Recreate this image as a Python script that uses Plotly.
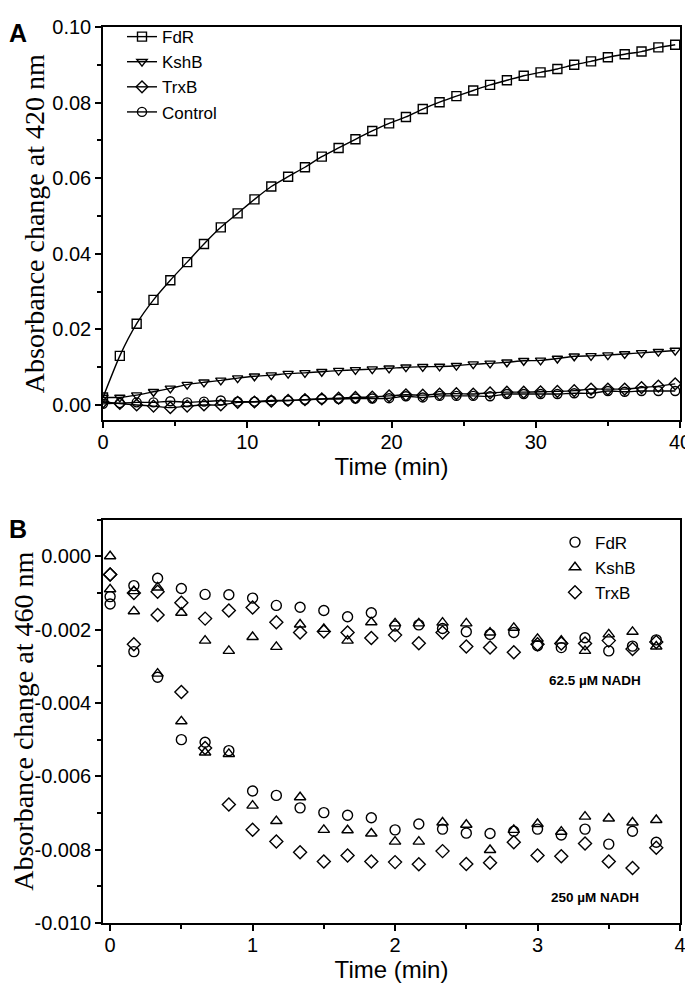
import plotly.graph_objects as go

# ---------------- Panel A data ----------------
time_a = [i * 7 / 6 for i in range(35)]  # 70 s sampling, minutes
fdr_a = [0.0020, 0.0130, 0.0215, 0.0278, 0.0330, 0.0378, 0.0426, 0.0470, 0.0507, 0.0544,
         0.0578, 0.0604, 0.0629, 0.0657, 0.0680, 0.0703, 0.0725, 0.0745, 0.0762, 0.0783,
         0.0801, 0.0817, 0.0832, 0.0847, 0.0859, 0.0871, 0.0880, 0.0889, 0.0900, 0.0909,
         0.0920, 0.0928, 0.0935, 0.0946, 0.0953]
kshb_a = [0.0020, 0.0020, 0.0026, 0.0035, 0.0044, 0.0054, 0.0060, 0.0065, 0.0071, 0.0076,
          0.0079, 0.0083, 0.0085, 0.0088, 0.0091, 0.0093, 0.0095, 0.0097, 0.0100, 0.0101,
          0.0102, 0.0104, 0.0108, 0.0110, 0.0113, 0.0117, 0.0118, 0.0123, 0.0129, 0.0130,
          0.0132, 0.0135, 0.0138, 0.0141, 0.0144]
trxb_a = [0.0008, 0.0004, 0.0000, -0.0003, -0.0007, -0.0003, 0.0000, 0.0000, 0.0007, 0.0008,
          0.0010, 0.0012, 0.0014, 0.0016, 0.0018, 0.0020, 0.0021, 0.0024, 0.0027, 0.0026,
          0.0029, 0.0030, 0.0029, 0.0032, 0.0034, 0.0034, 0.0035, 0.0036, 0.0038, 0.0042,
          0.0042, 0.0042, 0.0046, 0.0050, 0.0056]
ctrl_a = [0.0003, 0.0005, 0.0007, 0.0007, 0.0010, 0.0007, 0.0009, 0.0012, 0.0009, 0.0009,
          0.0012, 0.0012, 0.0014, 0.0016, 0.0016, 0.0017, 0.0017, 0.0018, 0.0023, 0.0020,
          0.0024, 0.0024, 0.0024, 0.0023, 0.0029, 0.0029, 0.0029, 0.0029, 0.0031, 0.0031,
          0.0037, 0.0035, 0.0037, 0.0037, 0.0037]

# ---------------- Panel B data ----------------
time_b = [i / 6 for i in range(24)]  # 10 s sampling, minutes
fdr_lo = [-0.00110, -0.00080, -0.00060, -0.00088, -0.00104, -0.00105, -0.00114, -0.00134,
          -0.00139, -0.00148, -0.00165, -0.00154, -0.00190, -0.00187, -0.00197, -0.00206,
          -0.00213, -0.00208, -0.00244, -0.00249, -0.00222, -0.00258, -0.00245, -0.00228]
kshb_lo = [-0.00090, -0.00095, -0.00085, -0.00154, -0.00230, -0.00258, -0.00220, -0.00247,
           -0.00186, -0.00198, -0.00230, -0.00180, -0.00183, -0.00183, -0.00181, -0.00183,
           -0.00208, -0.00195, -0.00225, -0.00230, -0.00258, -0.00213, -0.00206, -0.00246]
trxb_lo = [-0.00050, -0.00100, -0.00097, -0.00127, -0.00170, -0.00148, -0.00140, -0.00180,
           -0.00208, -0.00205, -0.00208, -0.00223, -0.00215, -0.00237, -0.00208, -0.00246,
           -0.00249, -0.00262, -0.00240, -0.00238, -0.00238, -0.00230, -0.00253, -0.00234]
fdr_hi = [-0.00130, -0.00260, -0.00330, -0.00500, -0.00507, -0.00530, -0.00640, -0.00652,
          -0.00686, -0.00699, -0.00706, -0.00713, -0.00746, -0.00730, -0.00744, -0.00755,
          -0.00756, -0.00750, -0.00744, -0.00760, -0.00744, -0.00785, -0.00750, -0.00780]
kshb_hi = [0.00000, -0.00150, -0.00320, -0.00450, -0.00535, -0.00539, -0.00680, -0.00722,
           -0.00657, -0.00746, -0.00747, -0.00756, -0.00778, -0.00778, -0.00726, -0.00732,
           -0.00801, -0.00746, -0.00730, -0.00751, -0.00710, -0.00715, -0.00726, -0.00719]
trxb_hi = [-0.00050, -0.00240, -0.00160, -0.00370, -0.00523, -0.00677, -0.00746, -0.00778,
           -0.00807, -0.00832, -0.00816, -0.00832, -0.00834, -0.00840, -0.00804, -0.00839,
           -0.00836, -0.00780, -0.00816, -0.00818, -0.00783, -0.00832, -0.00850, -0.00795]

yb_tickvals = [0.000, -0.002, -0.004, -0.006, -0.008, -0.010]
yb_ticktext = ["0.000", "-0.002", "-0.004", "-0.006", "-0.008", "-0.010"]

SANS = "Liberation Sans, Arial, sans-serif"
SERIF = "Liberation Serif, Times New Roman, serif"

# The page body has an 8 px margin, so the figure is sized to fit the window.
OFF = 8
W, H = 693 - OFF, 988 - OFF
# plot-area edges expressed in window pixels
LEFT, RIGHT, TOP, BOTTOM = 103, 680, 19, 923
ML, MR, MT, MB = LEFT - OFF, W - (RIGHT - OFF), TOP - OFF, H - (BOTTOM - OFF)
plot_w = W - ML - MR
plot_h = H - MT - MB


def px_to_paper(px, py):
    """window pixel -> paper coordinates"""
    fx, fy = px - OFF, py - OFF
    return (fx - ML) / plot_w, (H - MB - fy) / plot_h


fig = go.Figure()

series_a = [("FdR", fdr_a, "square-open"), ("KshB", kshb_a, "triangle-down-open"),
            ("TrxB", trxb_a, "diamond-open"), ("Control", ctrl_a, "circle-open")]
for name, ys, sym in series_a:
    fig.add_trace(go.Scatter(
        x=time_a, y=ys, name=name, mode="lines+markers",
        line=dict(color="black", width=1.4, shape="spline", smoothing=0.6),
        marker=dict(symbol=sym, size=9, color="black", line=dict(width=1.4, color="black")),
        xaxis="x", yaxis="y", legend="legend"))

series_b = [("FdR", fdr_lo, fdr_hi, "circle-open"), ("KshB", kshb_lo, kshb_hi, "triangle-up-open"),
            ("TrxB", trxb_lo, trxb_hi, "diamond-open")]
for name, lo, hi, sym in series_b:
    for ys, show in ((lo, True), (hi, False)):
        fig.add_trace(go.Scatter(
            x=time_b, y=ys, name=name, mode="markers", showlegend=show,
            marker=dict(symbol=sym, size=10, color="black", line=dict(width=1.4, color="black")),
            xaxis="x2", yaxis="y2", legend="legend2"))

axis_common = dict(showline=True, linecolor="black", linewidth=1.5, mirror=True,
                   ticks="outside", ticklen=6, tickwidth=1.5, tickcolor="black",
                   showgrid=False, zeroline=False, automargin=False,
                   ticklabeloverflow="allow",
                   tickfont=dict(family=SANS, size=20, color="black"))
minor_common = dict(ticks="outside", ticklen=4, tickwidth=1.5, tickcolor="black", showgrid=False)

ya_bottom = px_to_paper(0, 416)[1]
yb_top = px_to_paper(0, 516)[1]

lgA_x, lgA_y = px_to_paper(122, 11)
lgB_x, lgB_y = px_to_paper(555, 521)
aA = px_to_paper(18, 25)
aB = px_to_paper(18, 525)

fig.update_layout(
    width=W, height=H,
    margin=dict(l=ML, r=MR, t=MT, b=MB),
    paper_bgcolor="white", plot_bgcolor="white",
    xaxis=dict(domain=[0, 1], range=[0, 40], dtick=10, anchor="y", ticklabelstandoff=-3,
               minor=dict(dtick=5, **minor_common),
               title=dict(text="Time (min)", font=dict(family=SANS, size=24, color="black"), standoff=4),
               **axis_common),
    yaxis=dict(domain=[ya_bottom, 1], range=[-0.0041, 0.10], dtick=0.02, tickformat=".2f", anchor="x",
               minor=dict(dtick=0.01, **minor_common),
               title=dict(text="Absorbance change at 420 nm", font=dict(family=SERIF, size=28, color="black"), standoff=0),
               **axis_common),
    xaxis2=dict(domain=[0, 1], range=[-0.05, 4], dtick=1, anchor="y2", ticklabelstandoff=-3,
                minor=dict(dtick=0.5, **minor_common),
                title=dict(text="Time (min)", font=dict(family=SANS, size=24, color="black"), standoff=3),
                **axis_common),
    yaxis2=dict(domain=[0, yb_top], range=[-0.010, 0.001], tickvals=yb_tickvals, ticktext=yb_ticktext,
                anchor="x2",
                minor=dict(dtick=0.001, **minor_common),
                title=dict(text="Absorbance change at 460 nm", font=dict(family=SERIF, size=28, color="black"), standoff=6),
                **axis_common),
    legend=dict(x=lgA_x, y=lgA_y, xanchor="left", yanchor="top", bgcolor="rgba(0,0,0,0)",
                font=dict(family=SANS, size=17, color="black"), tracegroupgap=0),
    legend2=dict(x=lgB_x, y=lgB_y, xanchor="left", yanchor="top", bgcolor="rgba(0,0,0,0)",
                 font=dict(family=SANS, size=17, color="black"), tracegroupgap=0),
    showlegend=True,
    annotations=[
        dict(text="<b>A</b>", x=aA[0], y=aA[1], xref="paper", yref="paper", showarrow=False,
             xanchor="center", yanchor="middle", font=dict(family=SANS, size=25, color="black")),
        dict(text="<b>B</b>", x=aB[0], y=aB[1], xref="paper", yref="paper", showarrow=False,
             xanchor="center", yanchor="middle", font=dict(family=SANS, size=25, color="black")),
        dict(text="<b>62.5 µM NADH</b>", x=3.4, y=-0.00338, xref="x2", yref="y2", showarrow=False,
             xanchor="center", yanchor="middle", font=dict(family=SANS, size=13.5, color="black")),
        dict(text="<b>250 µM NADH</b>", x=3.4, y=-0.0093, xref="x2", yref="y2", showarrow=False,
             xanchor="center", yanchor="middle", font=dict(family=SANS, size=13.5, color="black")),
    ],
)

fig.write_html("out.html")
